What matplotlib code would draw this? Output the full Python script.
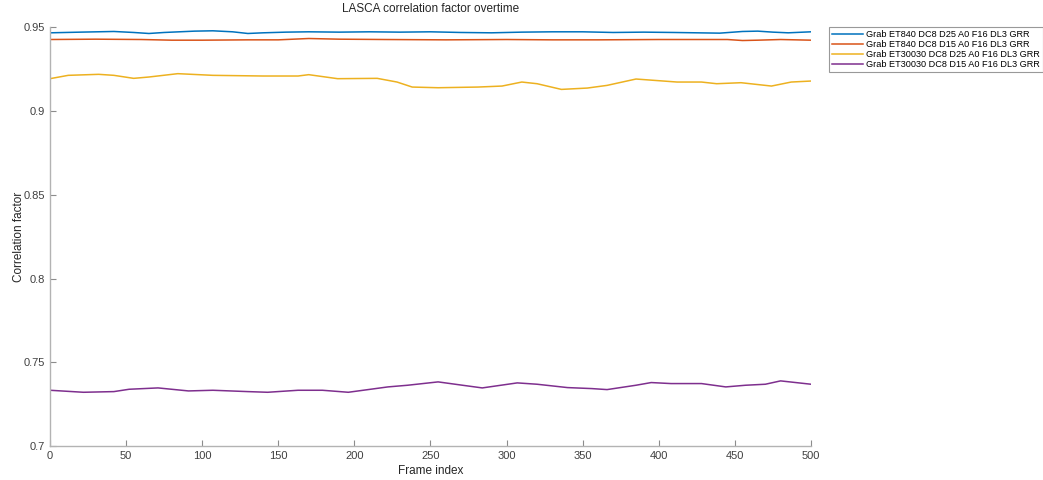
import matplotlib
matplotlib.use("Agg")
import matplotlib.pyplot as plt

plt.rcParams["font.family"] = ["Liberation Sans", "DejaVu Sans"]

# values (frame index -> correlation factor)
blue_x = [0, 20, 42, 55, 65, 75, 95, 107, 120, 130, 140, 155, 170, 190, 210, 230, 250, 270,
          290, 310, 330, 350, 370, 390, 410, 425, 440, 455, 465, 475, 485, 500]
blue_y = [0.9468, 0.9472, 0.9476, 0.9470, 0.9464, 0.9470, 0.9478, 0.9480, 0.9474, 0.9464,
          0.9468, 0.9472, 0.9474, 0.9472, 0.9474, 0.9472, 0.9474, 0.9470, 0.9468, 0.9472,
          0.9474, 0.9474, 0.9470, 0.9472, 0.9470, 0.9468, 0.9466, 0.9476, 0.9478, 0.9472,
          0.9468, 0.9474]

orange_x = [0, 30, 60, 80, 100, 130, 150, 170, 190, 220, 260, 300, 330, 360, 400, 430,
            445, 455, 465, 480, 500]
orange_y = [0.9428, 0.9430, 0.9428, 0.9424, 0.9424, 0.9426, 0.9426, 0.9434, 0.9430, 0.9428,
            0.9426, 0.9428, 0.9426, 0.9426, 0.9428, 0.9428, 0.9428, 0.9422, 0.9424, 0.9428,
            0.9424]

yellow_x = [0, 12, 32, 42, 55, 65, 84, 107, 140, 163, 170, 189, 215, 228, 238, 255, 281,
            297, 310, 320, 336, 353, 366, 385, 412, 428, 438, 454, 474, 487, 500]
yellow_y = [0.9194, 0.9214, 0.9220, 0.9214, 0.9196, 0.9204, 0.9224, 0.9214, 0.9210, 0.9210,
            0.9218, 0.9194, 0.9196, 0.9174, 0.9144, 0.9140, 0.9144, 0.9150, 0.9174, 0.9164,
            0.9130, 0.9138, 0.9154, 0.9192, 0.9174, 0.9174, 0.9164, 0.9170, 0.9150, 0.9174,
            0.9180]

purple_x = [0, 22, 42, 52, 71, 91, 107, 130, 143, 163, 179, 196, 222, 235, 255, 271, 284,
            307, 320, 340, 356, 366, 385, 395, 408, 428, 444, 457, 470, 480, 500]
purple_y = [0.7333, 0.7321, 0.7325, 0.7339, 0.7347, 0.7329, 0.7333, 0.7325, 0.7321, 0.7333,
            0.7333, 0.7321, 0.7353, 0.7363, 0.7383, 0.7363, 0.7347, 0.7377, 0.7369, 0.7349,
            0.7343, 0.7337, 0.7363, 0.7379, 0.7373, 0.7373, 0.7353, 0.7363, 0.7369, 0.7389,
            0.7369]

labels = ["Grab ET840 DC8 D25 A0 F16 DL3 GRR",
          "Grab ET840 DC8 D15 A0 F16 DL3 GRR",
          "Grab ET30030 DC8 D25 A0 F16 DL3 GRR",
          "Grab ET30030 DC8 D15 A0 F16 DL3 GRR"]
colors = ["#0072BD", "#D95319", "#EDB120", "#7E2F8E"]

fig = plt.figure(figsize=(10.43, 4.8), dpi=100)
ax = fig.add_axes([0.0479, 0.0708, 0.7297, 0.872])

series = [(blue_x, blue_y), (orange_x, orange_y), (yellow_x, yellow_y), (purple_x, purple_y)]
for (xs, ys), lab, c in zip(series, labels, colors):
    ax.plot(xs, ys, color=c, lw=1.1, label=lab)

ax.set_xlim(0, 500)
ax.set_ylim(0.7, 0.95)
ax.set_xticks(range(0, 501, 50))
ax.set_yticks([0.7, 0.75, 0.8, 0.85, 0.9, 0.95])
ax.set_yticklabels(["0.7", "0.75", "0.8", "0.85", "0.9", "0.95"])
for s in ["top", "right"]:
    ax.spines[s].set_visible(False)
for s in ["left", "bottom"]:
    ax.spines[s].set_color("#b3b3b3")
    ax.spines[s].set_linewidth(1.0)
ax.tick_params(direction="in", length=4, color="#8c8c8c", labelcolor="#404040", labelsize=8)

ax.set_xlabel("Frame index", fontsize=8.5, color="#262626", labelpad=3)
ax.set_ylabel("Correlation factor", fontsize=8.5, color="#262626", labelpad=-1)
ax.set_title("LASCA correlation factor overtime", fontsize=8.5, color="#262626", pad=11)

leg = fig.legend(loc="upper left", bbox_to_anchor=(829 / 1043, 1 - 27 / 480), fontsize=6.6,
                 frameon=True, fancybox=False, handlelength=3.4, handletextpad=0.35,
                 labelspacing=0.12, borderaxespad=0, borderpad=0.3)
leg.get_frame().set_edgecolor("#808080")
leg.get_frame().set_linewidth(0.8)

fig.savefig("out.png", dpi=100)
